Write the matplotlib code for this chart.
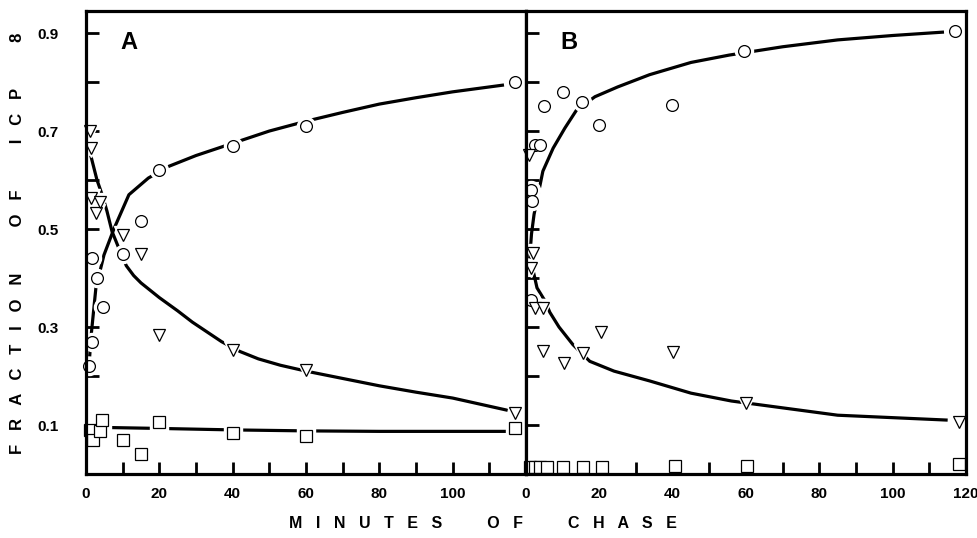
import numpy as np
import matplotlib.pyplot as plt

plt.rcParams['font.family'] = ['Liberation Sans', 'DejaVu Sans']
plt.rcParams['font.weight'] = 'bold'

# ---- Panel A: measured points (minutes, fraction)
a_circ_t = [0.8, 1.6, 1.6, 3.0, 4.6, 10, 15, 20, 40, 60, 117]
a_circ_y = [0.22, 0.27, 0.44, 0.40, 0.34, 0.45, 0.516, 0.62, 0.67, 0.71, 0.80]
a_tri_t = [1.1, 1.4, 1.4, 2.7, 3.8, 10, 15, 20, 40, 60, 117]
a_tri_y = [0.70, 0.665, 0.563, 0.533, 0.555, 0.488, 0.449, 0.284, 0.253, 0.212, 0.124]
a_sq_t = [1.0, 2.0, 3.8, 4.4, 10, 15, 20, 40, 60, 117]
a_sq_y = [0.09, 0.069, 0.088, 0.11, 0.069, 0.041, 0.106, 0.084, 0.078, 0.094]

# ---- Panel A: fitted curves
a_circ_fit_t = [1, 1.5, 2.7, 4.9, 7.6, 11.7, 17, 22.6, 30, 40, 50, 60, 70, 80, 90, 100, 114]
a_circ_fit_y = [0.24, 0.29, 0.38, 0.447, 0.50, 0.57, 0.604, 0.628, 0.65, 0.675, 0.70, 0.72, 0.738, 0.755, 0.768, 0.78, 0.794]
a_tri_fit_t = [1.3, 3, 4.4, 5.7, 7.1, 9, 11, 13, 15, 20, 25, 29, 33, 37, 42, 47, 53, 60, 70, 80, 90, 100, 115]
a_tri_fit_y = [0.65, 0.60, 0.57, 0.537, 0.495, 0.46, 0.425, 0.405, 0.39, 0.36, 0.333, 0.31, 0.29, 0.27, 0.25, 0.235, 0.222, 0.21, 0.195, 0.18, 0.167, 0.155, 0.13]
a_sq_fit_t = [5, 20, 40, 60, 80, 100, 115]
a_sq_fit_y = [0.095, 0.093, 0.09, 0.088, 0.087, 0.087, 0.087]

# ---- Panel B: measured points
b_circ_t = [1.3, 1.7, 1.3, 2.4, 3.8, 4.9, 10.1, 15.2, 19.8, 39.7, 59.5, 117]
b_circ_y = [0.58, 0.557, 0.355, 0.672, 0.672, 0.751, 0.78, 0.759, 0.712, 0.753, 0.863, 0.904]
b_tri_t = [0.9, 2.0, 1.4, 2.5, 4.5, 4.6, 10.3, 15.5, 20.4, 40, 60, 118]
b_tri_y = [0.651, 0.451, 0.42, 0.339, 0.339, 0.251, 0.226, 0.247, 0.29, 0.25, 0.145, 0.106]
b_sq_t = [1.1, 2.4, 3.8, 5.7, 10.1, 15.5, 20.7, 40.5, 60.4, 118]
b_sq_y = [0.015, 0.015, 0.015, 0.015, 0.015, 0.015, 0.015, 0.017, 0.017, 0.02]

# ---- Panel B: fitted curves
b_circ_fit_t = [1.0, 1.5, 2.2, 3.3, 4.6, 7.4, 10.6, 13.8, 18.8, 25, 33.7, 45, 55.4, 70, 85, 100, 114]
b_circ_fit_y = [0.44, 0.49, 0.53, 0.57, 0.618, 0.665, 0.706, 0.743, 0.77, 0.79, 0.815, 0.84, 0.855, 0.872, 0.886, 0.895, 0.902]
b_tri_fit_t = [1.0, 1.8, 3.0, 5.2, 6.5, 9, 12.8, 17.4, 24, 33.7, 45, 56, 70, 85, 100, 115]
b_tri_fit_y = [0.47, 0.42, 0.38, 0.353, 0.33, 0.30, 0.264, 0.23, 0.21, 0.19, 0.165, 0.149, 0.135, 0.12, 0.115, 0.11]

x_ticks = np.arange(0, 130, 10)
y_ticks = np.arange(1, 10) / 10


def spaced(s, gap=3, word_gap=10):
    return (' ' * word_gap).join((' ' * gap).join(w) for w in s.split())


def draw_panel(ax, pts, fits, letter, last_tick):
    for t, y in fits:
        ax.plot(t, y, color='black', lw=2.3, zorder=2, solid_capstyle='butt')
    for t, y, m in pts:
        # white halo breaks the curve around each symbol
        ax.plot(t, y, ls='none', marker=m, ms=13, mfc='white', mec='white', zorder=2.5)
    for t, y, m in pts:
        ax.plot(t, y, ls='none', marker=m, ms=8.5 if m != 's' else 8,
                mfc='white', mec='black', mew=0.9, zorder=4, clip_on=False)
    ax.set_xlim(0, 120)
    ax.set_ylim(0, 0.945)
    ticks = x_ticks[x_ticks <= last_tick]
    ax.set_xticks(ticks)
    ax.set_xticklabels([str(v) if v % 20 == 0 else '' for v in ticks])
    ax.set_yticks(y_ticks)
    ax.tick_params(direction='in', length=9, width=2, labelsize=11, pad=9)
    ax.tick_params(axis='y', pad=20)
    for sp in ax.spines.values():
        sp.set_linewidth(2.3)
        sp.set_zorder(5)
    ax.text(9.5, 0.88, letter, fontsize=17, fontweight='bold', va='center', ha='left')


fig = plt.figure(figsize=(9.77, 5.38), dpi=100)
axA = fig.add_axes([86 / 977, 64 / 538, 440 / 977, 463 / 538])
axB = fig.add_axes([526 / 977, 64 / 538, 440 / 977, 463 / 538])

draw_panel(axA,
           [(a_circ_t, a_circ_y, 'o'), (a_tri_t, a_tri_y, 'v'), (a_sq_t, a_sq_y, 's')],
           [(a_circ_fit_t, a_circ_fit_y), (a_tri_fit_t, a_tri_fit_y), (a_sq_fit_t, a_sq_fit_y)],
           'A', 110)
draw_panel(axB,
           [(b_circ_t, b_circ_y, 'o'), (b_tri_t, b_tri_y, 'v'), (b_sq_t, b_sq_y, 's')],
           [(b_circ_fit_t, b_circ_fit_y), (b_tri_fit_t, b_tri_fit_y)],
           'B', 120)

axA.set_yticklabels([f'{v:.1f}' if round(v * 10) % 2 == 1 else '' for v in y_ticks])
axB.set_yticklabels([])

fig.text(18 / 977, 1 - 243 / 538, spaced('FRACTION OF ICP 8', gap=3, word_gap=10), rotation=90,
         fontsize=12, fontweight='bold', ha='center', va='center')
fig.text(483 / 977, 1 - 524 / 538, spaced('MINUTES OF CHASE', gap=3, word_gap=10),
         fontsize=11.5, fontweight='bold', ha='center', va='center')

fig.savefig('out.png', dpi=100)
